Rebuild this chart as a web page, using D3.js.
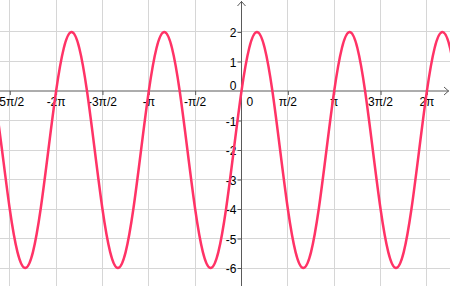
<!DOCTYPE html>
<html>
<head>
<meta charset="utf-8">
<script src="https://cdn.jsdelivr.net/npm/d3@7"></script>
<style>
  body { margin: 0; background: #fff; }
  svg text { font-family: "Liberation Sans", Arial, sans-serif; font-size: 12px; fill: #000; }
</style>
</head>
<body>
<div id="chart"></div>
<script>
// x values are in multiples of pi
let xTickValues = [-2.5, -2, -1.5, -1, -0.5, 0.5, 1, 1.5, 2];
let xTickLabels = ["-5π/2", "-2π", "-3π/2", "-π", "-π/2", "π/2", "π", "3π/2", "2π"];
let yTickValues = [-6, -5, -4, -3, -2, -1, 1, 2];

// curve samples, x in twelfths of pi
let sampleX = [-32, -31, -30, -29, -28, -27, -26, -25, -24, -23, -22, -21,
    -20, -19, -18, -17, -16, -15, -14, -13, -12, -11, -10, -9,
    -8, -7, -6, -5, -4, -3, -2, -1, 0, 1, 2, 3,
    4, 5, 6, 7, 8, 9, 10, 11, 12, 13, 14, 15,
    16, 17, 18, 19, 20, 21, 22, 23, 24, 25, 26, 27, 28];
let sampleY = [0, -2, -4, -5.46, -6, -5.46, -4, -2, 0, 1.46, 2, 1.46,
    0, -2, -4, -5.46, -6, -5.46, -4, -2, 0, 1.46, 2, 1.46,
    0, -2, -4, -5.46, -6, -5.46, -4, -2, 0, 1.46, 2, 1.46,
    0, -2, -4, -5.46, -6, -5.46, -4, -2, 0, 1.46, 2, 1.46,
    0, -2, -4, -5.46, -6, -5.46, -4, -2, 0, 1.46, 2, 1.46, 0];

let width = 450, height = 286;

let svg = d3.select("#chart").append("svg")
    .attr("width", width)
    .attr("height", height);

let x = d3.scaleLinear().domain([-2.6052, 2.2492]).range([0, width]);
let y = d3.scaleLinear().domain([3.0847, -6.61]).range([0, height]);

let x0 = x(0), y0 = y(0);

// grid
let grid = svg.append("g").attr("stroke", "#d6d6d6").attr("stroke-width", 1).attr("shape-rendering", "crispEdges");
grid.selectAll(".gx")
    .data(xTickValues)
  .enter().append("line")
    .attr("x1", d => x(d)).attr("x2", d => x(d))
    .attr("y1", 0).attr("y2", height);
grid.selectAll(".gy")
    .data(yTickValues)
  .enter().append("line")
    .attr("x1", 0).attr("x2", width)
    .attr("y1", d => y(d)).attr("y2", d => y(d));

// axes
let axisColor = "#5a5a5a";
let xAxis = svg.append("g")
    .attr("transform", "translate(0," + y0 + ")")
    .call(d3.axisBottom(x).tickValues(xTickValues).tickSize(4).tickFormat(""));
let yAxis = svg.append("g")
    .attr("transform", "translate(" + x0 + ",0)")
    .call(d3.axisLeft(y).tickValues(yTickValues).tickSize(4).tickFormat(""));
svg.selectAll(".domain").remove();
svg.selectAll(".tick line").attr("stroke", axisColor);

svg.append("line")
    .attr("x1", 0).attr("x2", width - 1)
    .attr("y1", y0).attr("y2", y0)
    .attr("stroke", axisColor);
svg.append("line")
    .attr("x1", x0).attr("x2", x0)
    .attr("y1", 1).attr("y2", height)
    .attr("stroke", axisColor);

// arrow heads
svg.append("path")
    .attr("d", "M" + (width - 6) + "," + (y0 - 4) + "L" + (width - 1.5) + "," + y0 + "L" + (width - 6) + "," + (y0 + 4))
    .attr("fill", "none").attr("stroke", axisColor);
svg.append("path")
    .attr("d", "M" + (x0 - 4) + ",6L" + x0 + ",1.5L" + (x0 + 4) + ",6")
    .attr("fill", "none").attr("stroke", axisColor);

// labels
svg.selectAll(".xl")
    .data(xTickValues)
  .enter().append("text")
    .attr("x", (d, i) => x(d))
    .attr("y", y0 + 15)
    .attr("text-anchor", "middle")
    .text((d, i) => xTickLabels[i]);
svg.append("text")
    .attr("x", x0 + 5).attr("y", y0 + 15)
    .text("0");

svg.selectAll(".yl")
    .data(yTickValues)
  .enter().append("text")
    .attr("x", x0 - 5)
    .attr("y", d => y(d) + 1)
    .attr("dy", "0.35em")
    .attr("text-anchor", "end")
    .text(d => d);
svg.append("text")
    .attr("x", x0 - 5).attr("y", y0 - 1)
    .attr("text-anchor", "end")
    .text("0");

// curve
let line = d3.line()
    .x((d, i) => x(d / 12))
    .y((d, i) => y(sampleY[i]))
    .curve(d3.curveNatural);

svg.append("path")
    .datum(sampleX)
    .attr("d", line)
    .attr("fill", "none")
    .attr("stroke", "#ff3366")
    .attr("stroke-width", 2.5);
</script>
</body>
</html>
